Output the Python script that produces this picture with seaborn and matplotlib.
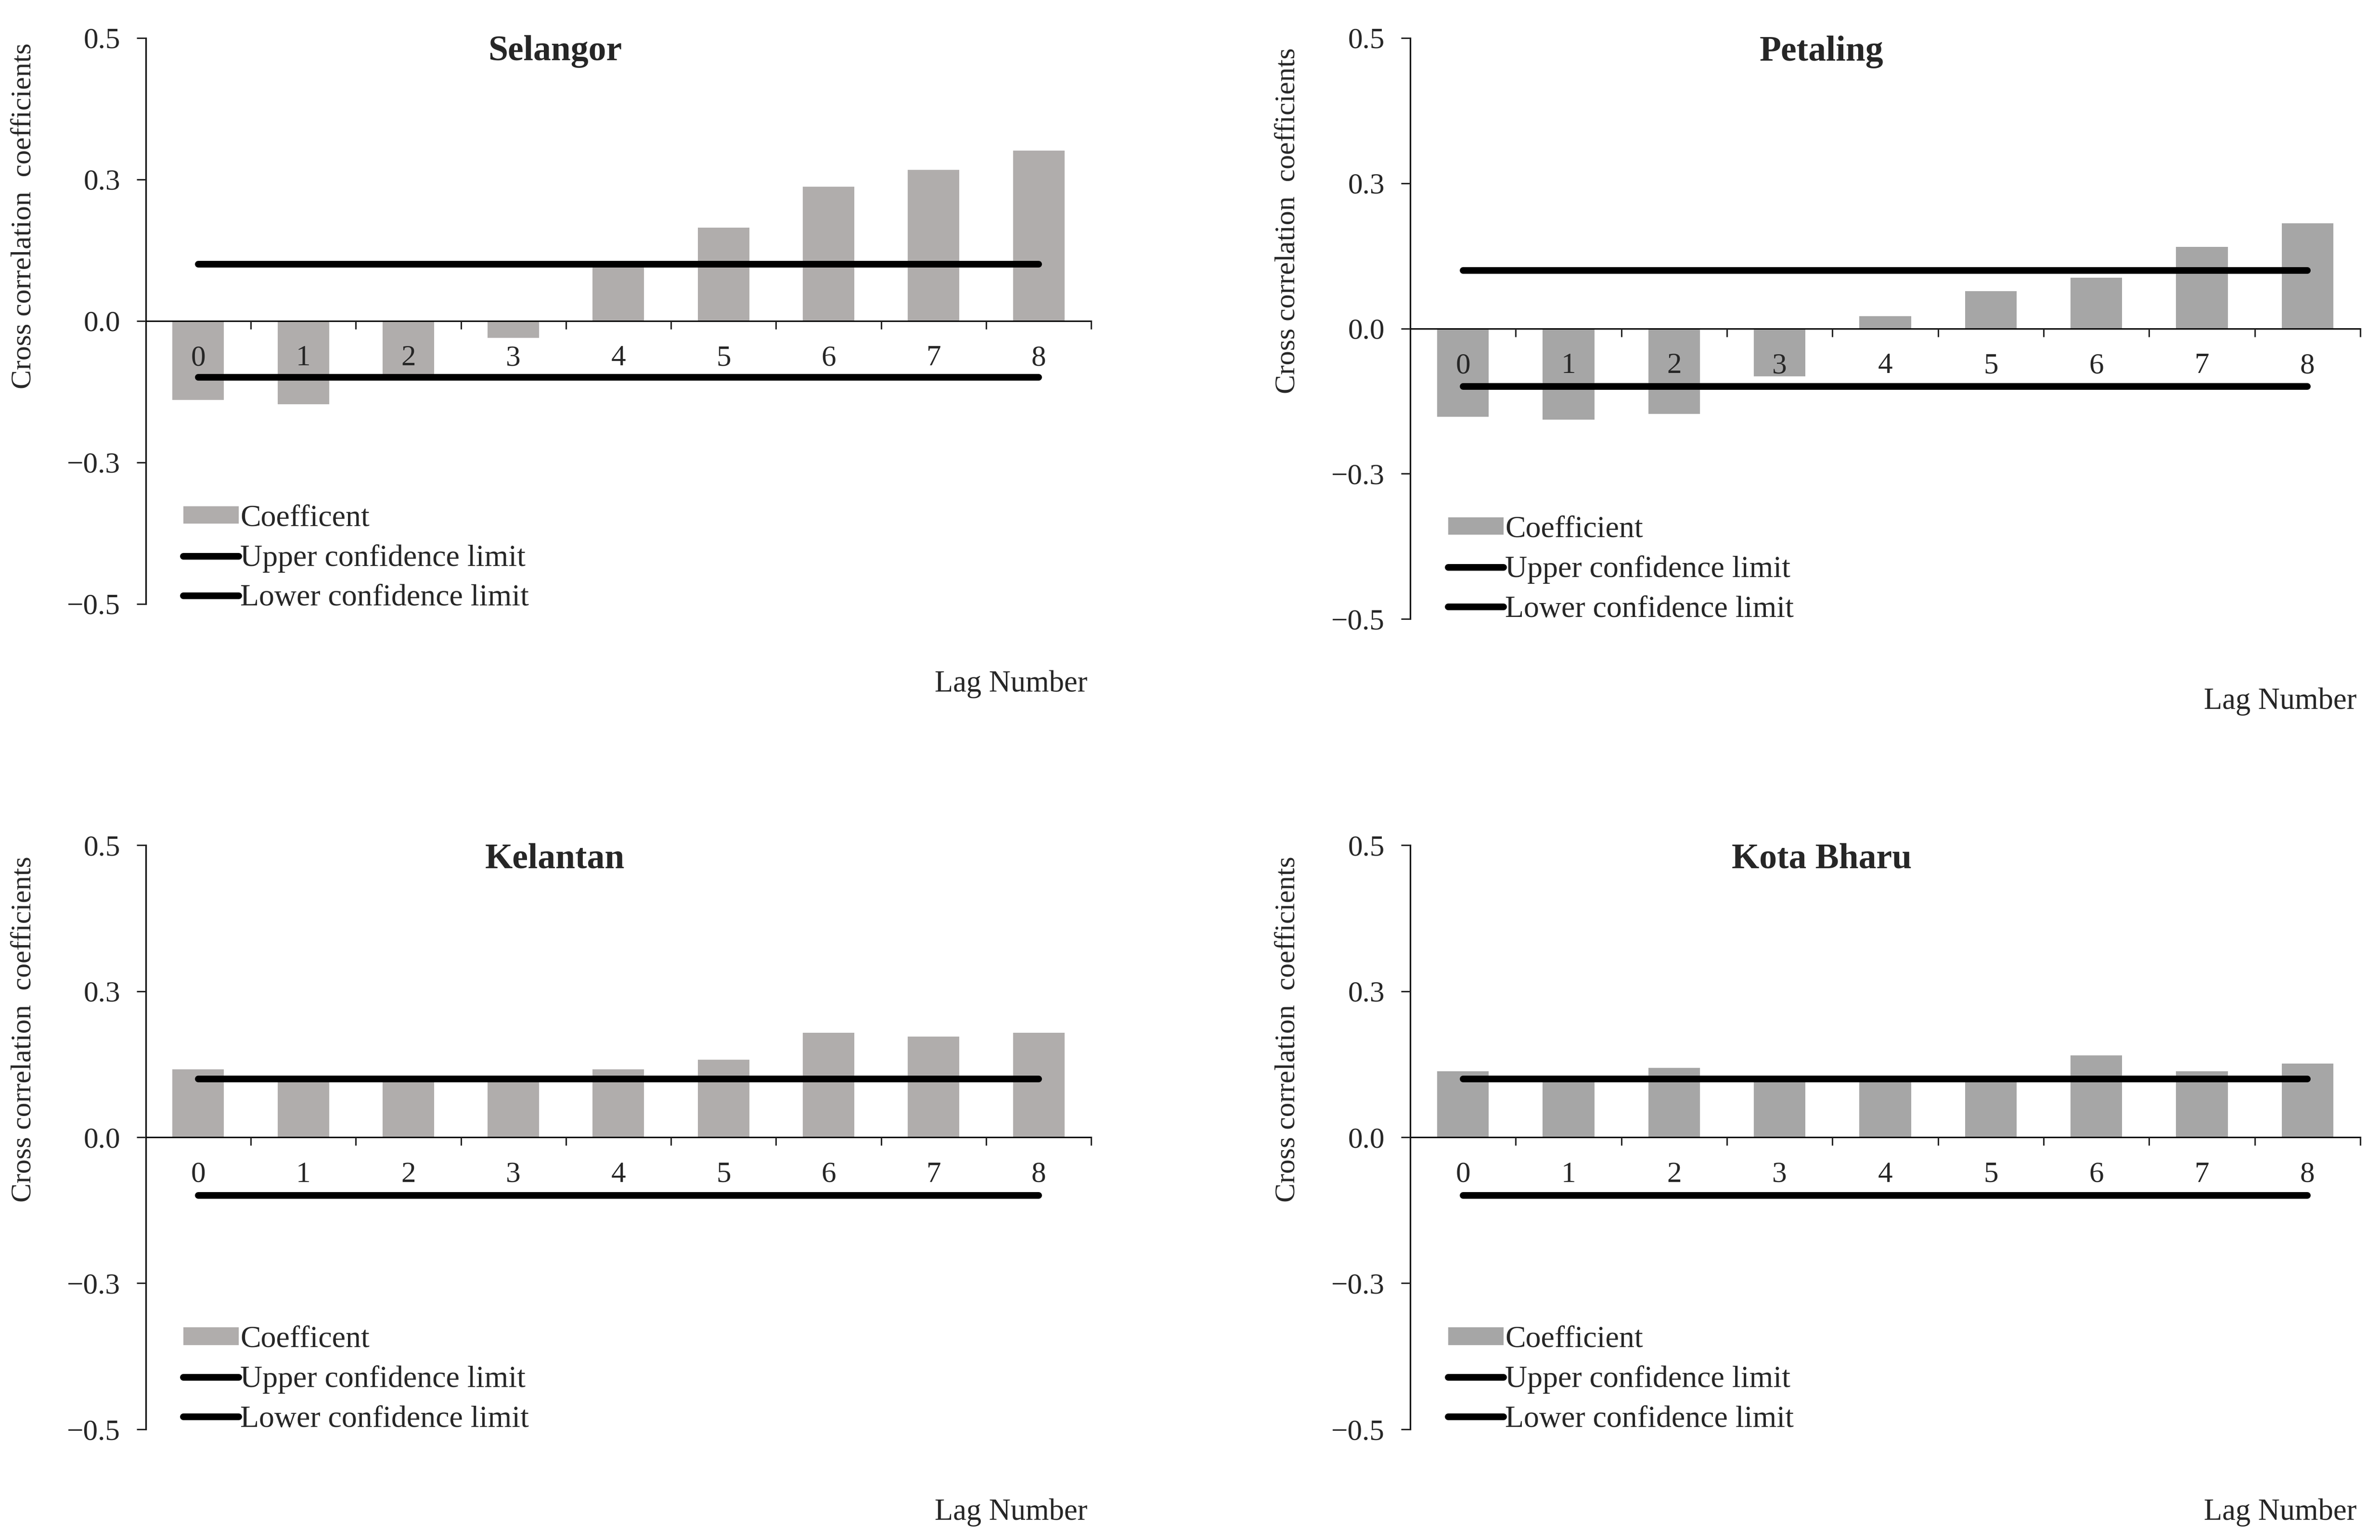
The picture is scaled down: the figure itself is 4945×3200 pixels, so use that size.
import matplotlib
matplotlib.use("Agg")
import matplotlib.pyplot as plt
import seaborn as sns
import pandas as pd

# -------------------------
# Data
# -------------------------
lags = [0, 1, 2, 3, 4, 5, 6, 7, 8]

selangor_coef = [-0.140, -0.147, -0.100, -0.030, 0.097, 0.165, 0.237, 0.267, 0.301]
petaling_coef = [-0.152, -0.157, -0.147, -0.082, 0.021, 0.064, 0.087, 0.140, 0.181]
kelantan_coef = [0.116, 0.097, 0.105, 0.105, 0.116, 0.133, 0.179, 0.172, 0.179]
kotabharu_coef = [0.113, 0.097, 0.119, 0.096, 0.096, 0.105, 0.140, 0.113, 0.126]

upper_limit = [0.10, 0.10, 0.10, 0.10, 0.10, 0.10, 0.10, 0.10, 0.10]
lower_limit = [-0.10, -0.10, -0.10, -0.10, -0.10, -0.10, -0.10, -0.10, -0.10]

y_ticks = [-0.5, -0.25, 0.0, 0.25, 0.5]
y_tick_labels = ["\u22120.5", "\u22120.3", "0.0", "0.3", "0.5"]

panels = [
    # title, coefficients, legend label, bar colour, axes rect, legend y
    ("Selangor", selangor_coef, "Coefficent", "#B0ADAC", [0.0612, 0.6079, 0.3973, 0.3675], 0.080),
    ("Petaling", petaling_coef, "Coefficient", "#A6A6A6", [0.5925, 0.5980, 0.3992, 0.3774], 0.085),
    ("Kelantan", kelantan_coef, "Coefficent", "#B0ADAC", [0.0612, 0.0719, 0.3973, 0.3793], 0.085),
    ("Kota Bharu", kotabharu_coef, "Coefficient", "#A6A6A6", [0.5925, 0.0719, 0.3992, 0.3793], 0.085),
]

# -------------------------
# Style
# -------------------------
sns.set_style("white")
plt.rcParams["font.family"] = ["Liberation Serif", "DejaVu Serif"]

fig = plt.figure(figsize=(49.45, 32), dpi=100)

for title, coef, bar_label, color, rect, leg_y in panels:
    ax = fig.add_axes(rect)
    ax.set_axisbelow(False)
    df = pd.DataFrame({"lag": lags, "coef": coef,
                       "upper": upper_limit, "lower": lower_limit})

    sns.barplot(data=df, x="lag", y="coef", color=color, width=0.49,
                saturation=1, edgecolor="none", label=bar_label, ax=ax, zorder=1)
    sns.lineplot(data=df, x="lag", y="upper", color="black", linewidth=10,
                 solid_capstyle="round", label="Upper confidence limit", ax=ax, zorder=3)
    sns.lineplot(data=df, x="lag", y="lower", color="black", linewidth=10,
                 solid_capstyle="round", label="Lower confidence limit", ax=ax, zorder=3)

    ax.set_xlim(-0.5, 8.5)
    ax.set_ylim(-0.5, 0.5)

    # spines: x axis sits on zero
    ax.spines["top"].set_visible(False)
    ax.spines["right"].set_visible(False)
    ax.spines["bottom"].set_position(("data", 0))
    for s in ("left", "bottom"):
        ax.spines[s].set_linewidth(2.2)
        ax.spines[s].set_color("black")

    ax.set_yticks(y_ticks)
    ax.set_yticklabels(y_tick_labels)
    ax.tick_params(axis="y", direction="out", length=14, width=2.2, pad=24,
                   labelsize=44, left=True)

    # category labels centred, tick marks at boundaries
    ax.set_xticks(lags)
    ax.set_xticklabels([str(v) for v in lags])
    ax.set_xticks([v + 0.5 for v in lags], minor=True)
    ax.tick_params(axis="x", which="major", length=0, pad=36, labelsize=44)
    ax.tick_params(axis="x", which="minor", direction="out", length=12, width=2.2,
                   bottom=True)

    ax.set_xlabel("")
    ax.set_ylabel("Cross correlation  coefficients", fontsize=43)
    ax.yaxis.set_label_coords(-0.115, 0.685)

    ax.text(0.433, 0.976, title, transform=ax.transAxes, ha="center", va="center",
            fontsize=53, fontweight="bold")
    ax.text(0.996, -0.142, "Lag Number", transform=ax.transAxes, ha="right",
            va="center", fontsize=45)

    handles, labels = ax.get_legend_handles_labels()
    order = [labels.index(bar_label), labels.index("Upper confidence limit"),
             labels.index("Lower confidence limit")]
    ax.legend([handles[i] for i in order], [labels[i] for i in order],
              loc="center left", bbox_to_anchor=(0.04, leg_y), frameon=False,
              fontsize=46, handlelength=1.8, handleheight=0.5, handletextpad=0.05,
              labelspacing=0.38, borderpad=0, borderaxespad=0)
    ax.grid(False)

fig.savefig("out.png", dpi=100, facecolor="white")
